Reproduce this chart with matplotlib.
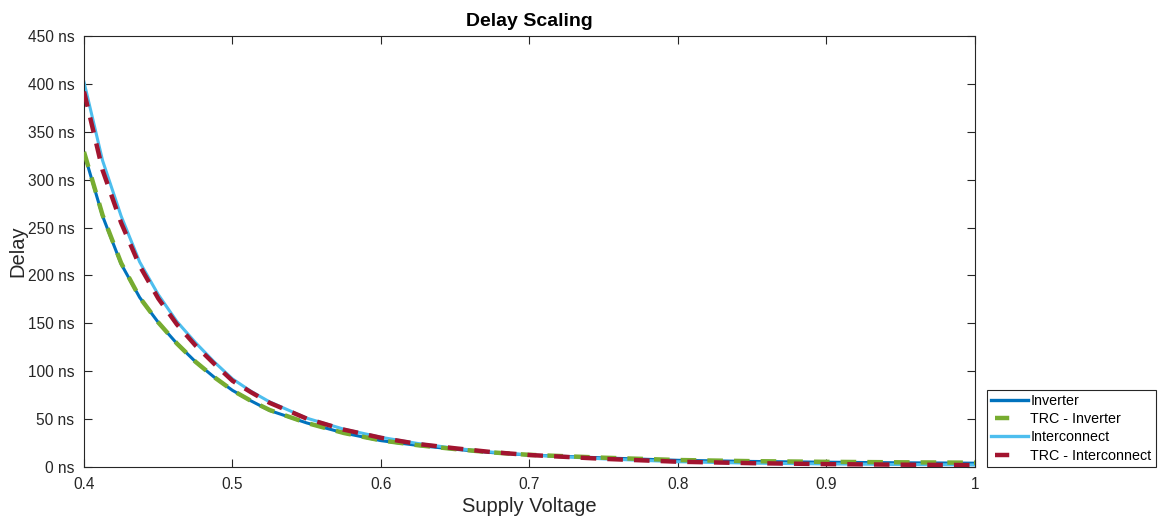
import matplotlib
matplotlib.use("Agg")
import matplotlib.pyplot as plt
from matplotlib.lines import Line2D

plt.rcParams['font.family'] = ['Liberation Sans', 'DejaVu Sans']

voltage = [0.4, 0.4125, 0.425, 0.4375, 0.45, 0.4625, 0.475, 0.4875, 0.5, 0.5125,
           0.525, 0.55, 0.575, 0.6, 0.625, 0.65, 0.675, 0.7, 0.75, 0.8,
           0.85, 0.9, 0.95, 1.0]

inverter = [328, 262, 212, 177, 151, 129, 110, 94, 80, 69,
            59, 46, 35.5, 27.5, 22.5, 18.5, 15, 12.5, 9.5, 7,
            5.8, 5, 4.4, 4]

trc_inverter = [329, 263, 213, 177, 151, 129, 110, 94, 80, 69,
                59.5, 46, 35.5, 27.8, 22.7, 18.7, 15.2, 12.7, 9.7, 7.3,
                6.1, 5.4, 4.9, 4.5]

interconnect = [402, 320, 262, 214, 180, 152, 130, 110, 92, 79,
                68, 51, 39.5, 31, 24.5, 19.5, 15.5, 12.5, 8.5, 5.5,
                4, 3.2, 2.6, 2.2]

trc_interconnect = [392, 310, 255, 210, 176, 149, 127, 108, 90, 78,
                    67, 50.5, 39, 30.5, 24, 19.5, 15.5, 12.5, 8.5, 5.5,
                    4, 3, 2.4, 2.0]

yticks = [0, 50, 100, 150, 200, 250, 300, 350, 400, 450]
ytick_labels = [f"{v} ns" for v in yticks]
xticks = [0.4, 0.5, 0.6, 0.7, 0.8, 0.9, 1.0]
xtick_labels = ["0.4", "0.5", "0.6", "0.7", "0.8", "0.9", "1"]

fig = plt.figure(figsize=(11.68, 5.24), dpi=100)
ax = fig.add_axes([84/1168, 57/524, 891/1168, 431/524])

c_inv = '#0072BD'
c_trc_inv = '#77AC30'
c_int = '#4DBEEE'
c_trc_int = '#A2142F'

ax.plot(voltage, inverter, color=c_inv, lw=2.2, label='Inverter', zorder=2)
ax.plot(voltage, trc_inverter, color=c_trc_inv, lw=3.2, dashes=(3.5, 2.5),
        label='TRC - Inverter', zorder=3)
ax.plot(voltage, interconnect, color=c_int, lw=2.2, label='Interconnect', zorder=2)
ax.plot(voltage, trc_interconnect, color=c_trc_int, lw=3.2, dashes=(3.5, 2.5),
        label='TRC - Interconnect', zorder=3)

ax.set_xlim(0.4, 1.0)
ax.set_ylim(0, 450)
ax.set_xticks(xticks)
ax.set_xticklabels(xtick_labels)
ax.set_yticks(yticks)
ax.set_yticklabels(ytick_labels)

axcol = '#262626'
for s in ax.spines.values():
    s.set_color(axcol)
    s.set_linewidth(0.8)
ax.tick_params(direction='in', length=6, width=0.8, colors=axcol,
               labelsize=11.2, top=True, right=True, pad=7)
for lab in ax.get_xticklabels() + ax.get_yticklabels():
    lab.set_color(axcol)

ax.set_xlabel('Supply Voltage', fontsize=14.5, color=axcol, labelpad=4)
ax.set_ylabel('Delay', fontsize=14.5, color=axcol)
ax.yaxis.set_label_coords(-0.064, 0.5)
ax.set_title('Delay Scaling', fontsize=14, fontweight='bold', color='black', pad=7)

h_inv = Line2D([], [], color=c_inv, lw=2.4)
h_trc_inv = Line2D([], [], color=c_trc_inv, lw=3.2, dashes=(0, 0.9, 3.2, 20))
h_int = Line2D([], [], color=c_int, lw=2.4)
h_trc_int = Line2D([], [], color=c_trc_int, lw=3.2, dashes=(0, 0.9, 3.2, 20))

leg = ax.legend([h_inv, h_trc_inv, h_int, h_trc_int],
                ['Inverter', 'TRC - Inverter', 'Interconnect', 'TRC - Interconnect'],
                loc='lower left', bbox_to_anchor=(1.013, 0.0), borderaxespad=0,
                fontsize=10.3, frameon=True, fancybox=False, framealpha=1,
                edgecolor='#262626', handlelength=2.6, handletextpad=0.15,
                labelspacing=0.3, borderpad=0.3)
leg.get_frame().set_linewidth(0.8)

fig.savefig('out.png', dpi=100)
